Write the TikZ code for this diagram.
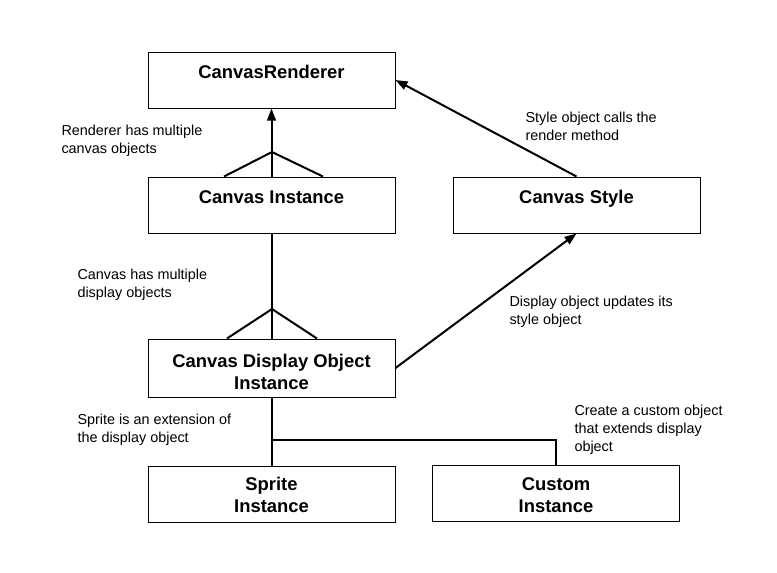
\documentclass[tikz,border=0pt]{standalone}
\usepackage{fontspec}
\setmainfont{Liberation Sans}
\usetikzlibrary{arrows.meta}

\tikzset{every picture/.style={line width=0.75pt}}
\tikzset{
  box/.style={draw, line width=0.75pt, minimum width=185.25pt, minimum height=42pt, inner sep=0pt},
  boxtxt/.style={inner sep=0pt, align=center, font=\fontsize{13.8}{16.5}\selectfont\bfseries},
  note/.style={anchor=north west, inner sep=0pt, align=left, font=\fontsize{10.8}{13.5}\selectfont},
  conn/.style={line width=1.5pt},
  arr/.style={conn, -{Triangle[length=9pt, width=6.5pt]}}
}

\begin{document}
\begin{tikzpicture}[x=0.75pt,y=0.75pt,yscale=-1,xscale=1]
\useasboundingbox (0,0) rectangle (777,572);

%Shape: Rectangle [boxes]
\node[box] (rend) at (271.5,80) {};
\node[box] (inst) at (271.5,205) {};
\node[box] (style) at (576.5,205) {};
\node[box, minimum height=43.5pt] (disp) at (271.5,368) {};
\node[box] (sprite) at (271.5,494.5) {};
\node[box] (cust) at (556,493.5) {};

% Text Node
\node[boxtxt, anchor=base] (rendtxt) at (271.5,78) {CanvasRenderer};
% Text Node
\node[boxtxt, anchor=base] (insttxt) at (271.5,203) {Canvas Instance};
% Text Node
\node[boxtxt, anchor=base] (styletxt) at (576.5,203) {Canvas Style};
% Text Node
\node[boxtxt] (disptxt) at (271.5,372) {Canvas Display Object\\Instance};
% Text Node
\node[boxtxt] (spritetxt) at (271.5,495) {Sprite\\Instance};
% Text Node
\node[boxtxt] (custtxt) at (556,495) {Custom\\Instance};

% Text Node
\node[note] (n1) at (61,125) {Renderer has multiple\\canvas objects};
% Text Node
\node[note] (n2) at (525,112) {Style object calls the\\render method};
% Text Node
\node[note] (n3) at (77,269) {Canvas has multiple\\display objects};
% Text Node
\node[note] (n4) at (509,296) {Display object updates its\\style object};
% Text Node
\node[note] (n5) at (77,414) {Sprite is an extension of\\the display object};
% Text Node
\node[note] (n6) at (574,405) {Create a custom object\\that extends display\\object};

%crow feet
\coordinate (ftA) at (272,152);
\coordinate (ftB) at (272,309);
\coordinate (jn) at (271.5,440);

% Connection
\draw[arr] (inst.north) -- (rend.south);
\draw[conn] ([xshift=-35.6pt]inst.north) -- (ftA) -- ([xshift=38.6pt]inst.north);
% Connection
\draw[conn] (inst.south) -- (disp.north);
\draw[conn] ([xshift=-33.4pt]disp.north) -- (ftB) -- ([xshift=34.1pt]disp.north);
% Connection
\draw[arr] (disp.east) -- (style.south);
% Connection
\draw[arr] (style.north) -- (rend.east);
% Connection
\draw[conn] (disp.south) -- (sprite.north);
\draw[line width=1.2pt] (jn) -| (cust.north);

\end{tikzpicture}
\end{document}
